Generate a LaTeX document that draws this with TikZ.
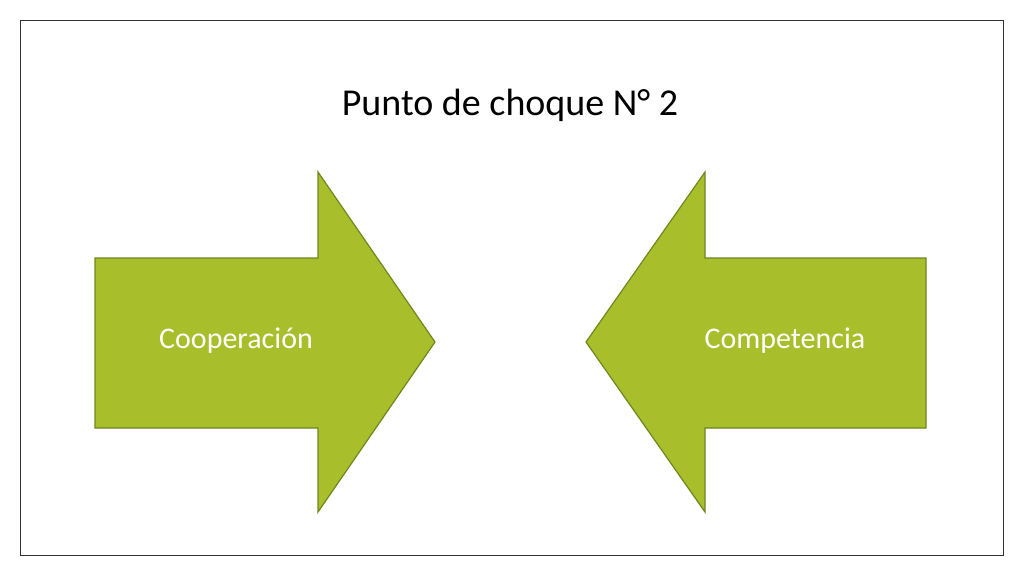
\documentclass[tikz,border=0pt]{standalone}
\usepackage{fontspec}
\setmainfont{Carlito}
\begin{document}
\begin{tikzpicture}[x=1pt,y=-1pt,
  arr/.style={fill={rgb,255:red,168;green,190;blue,42},draw={rgb,255:red,110;green,135;blue,30},line width=1.2pt,line join=miter},
  lbl/.style={text=white,font=\fontsize{30}{36}\selectfont}]
\useasboundingbox (0,0) rectangle (1024,576);
\draw[line width=0.8pt,draw=black!80] (20,20) rectangle (1003,555);
\node (title) at (510,105) {\fontsize{38}{44}\selectfont Punto de choque N° 2};
\draw[arr] (95,258) -- (318,258) -- (318,172) -- (435,342) -- (318,512) -- (318,428) -- (95,428) -- cycle;
\draw[arr] (926,258) -- (705,258) -- (705,172) -- (586,342) -- (705,512) -- (705,428) -- (926,428) -- cycle;
\node[lbl] (coop) at (236,341) {Cooperación};
\node[lbl] (comp) at (785,341) {Competencia};
\end{tikzpicture}
\end{document}
